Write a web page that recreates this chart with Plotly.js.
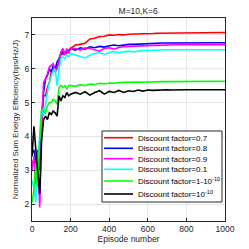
<!DOCTYPE html>
<html><head><meta charset="utf-8">
<script src="https://cdn.plot.ly/plotly-3.0.1.min.js"></script>
<style>html,body{margin:0;padding:0;background:#fff}#c{width:249px;height:249px}</style>
</head><body><div id="c"></div>
<script>
var episodes = [0,10,20,30,40,50,60,70,80,90,100,110,120,130,140,150,160,170,180,190,200,
  225,250,275,300,325,350,375,400,425,450,475,500,525,550,575,600,625,650,675,700,725,750,775,800,825,850,875,900,925,950,975,1000];
var red = [3.2,3.3,2.9,3.3,3.6,4.5,5.2,5.2,5.45,5.6,5.9,5.95,6.0,6.05,6.2,6.45,6.42,6.5,6.45,6.55,6.6,
  6.7,6.72,6.75,6.88,6.9,6.95,6.96,7.0,6.99,7.01,7.0,7.02,7.02,7.03,7.03,7.04,7.04,7.05,7.05,7.05,7.06,7.06,7.06,7.06,7.06,7.07,7.07,7.07,7.07,7.07,7.07,7.07];
var blue = [3.5,3.6,3.2,3.6,3.0,4.6,5.3,5.7,5.8,6.0,5.9,6.1,6.0,6.2,6.3,6.45,6.5,6.45,6.55,6.5,6.6,
  6.55,6.62,6.58,6.65,6.62,6.66,6.64,6.68,6.7,6.68,6.71,6.72,6.72,6.73,6.74,6.74,6.75,6.75,6.76,6.76,6.76,6.77,6.77,6.77,6.77,6.77,6.77,6.77,6.77,6.77,6.77,6.77];
var magenta = [3.0,3.4,2.6,3.2,1.9,4.3,5.6,5.7,5.85,6.05,6.1,6.15,5.9,6.0,6.2,6.5,6.6,6.4,6.6,6.45,6.6,
  6.6,6.55,6.62,6.6,6.55,6.52,6.6,6.62,6.58,6.63,6.65,6.66,6.66,6.67,6.68,6.68,6.69,6.69,6.7,6.7,6.7,6.71,6.71,6.71,6.71,6.71,6.71,6.71,6.71,6.71,6.71,6.71];
var cyan = [2.7,2.5,2.05,3.3,4.0,4.8,4.6,5.0,5.3,5.6,5.8,5.95,6.0,5.5,6.0,6.3,6.35,6.3,6.4,6.35,6.45,
  6.4,6.36,6.32,6.4,6.45,6.47,6.43,6.48,6.5,6.48,6.5,6.52,6.5,6.53,6.54,6.54,6.55,6.55,6.55,6.56,6.56,6.56,6.56,6.56,6.56,6.56,6.56,6.56,6.56,6.56,6.56,6.56];
var green = [2.05,2.4,3.2,2.5,3.9,4.8,4.75,4.7,4.9,5.0,5.0,5.1,5.05,4.95,5.45,5.5,5.45,5.5,5.4,5.5,5.5,
  5.48,5.53,5.5,5.55,5.53,5.57,5.55,5.58,5.57,5.59,5.6,5.59,5.6,5.61,5.6,5.61,5.62,5.62,5.62,5.62,5.62,5.63,5.63,5.63,5.63,5.63,5.63,5.63,5.63,5.63,5.63,5.63];
var black = [3.4,4.3,3.6,2.9,2.3,3.9,4.5,4.6,4.5,4.7,4.65,4.75,4.7,4.6,5.2,5.05,5.2,5.15,5.3,5.2,5.25,
  5.3,5.25,5.32,5.22,5.3,5.35,5.25,5.33,5.3,5.36,5.3,5.35,5.33,5.37,5.34,5.37,5.36,5.37,5.37,5.38,5.37,5.38,5.38,5.38,5.38,5.38,5.38,5.38,5.38,5.38,5.38,5.38];
var names = ['Discount factor=0.7','Discount factor=0.8','Discount factor=0.9','Discount factor=0.1',
  'Discount factor=1-10<sup>-10</sup>','Discount factor=10<sup>-10</sup>'];
var series = [red, blue, magenta, cyan, green, black];
var colors = ['#ff0000','#0000ff','#ff00ff','#00ffff','#00ff00','#000000'];
var xTicks = [0,200,400,600,800,1000];
var yTicks = [2,3,4,5,6,7];

var traces = series.map(function(s,i){
  return {x: episodes, y: s, type:'scatter', mode:'lines', name: names[i],
    line:{color: colors[i], width:1.6}, showlegend:false};
});

// compact MATLAB-like legend drawn in paper coordinates
var L = 32, B = 221, W = 193, H = 203;
function px2x(p){ return (p - L) / W; }
function py2y(p){ return (B - p) / H; }
var rowY = [137.7, 148.3, 158.7, 169.3, 181, 194];
var shapes = [{type:'rect', xref:'paper', yref:'paper', x0:px2x(102), x1:px2x(222), y0:py2y(202), y1:py2y(131),
  line:{color:'#262626', width:1}, fillcolor:'#ffffff', layer:'above'}];
var annotations = [];
names.forEach(function(n,i){
  shapes.push({type:'line', xref:'paper', yref:'paper', x0:px2x(104), x1:px2x(133), y0:py2y(rowY[i]), y1:py2y(rowY[i]),
    line:{color:colors[i], width:1.6}, layer:'above'});
  annotations.push({xref:'paper', yref:'paper', x:px2x(135.5), y:py2y(rowY[i] + (i>=4 ? -0.3 : 0.6)), xanchor:'left', yanchor:'middle',
    text:n, showarrow:false, font:{family:'Liberation Sans, Arial', size:8, color:'#000'}});
});

var ax = {showline:true, mirror:true, linecolor:'#262626', linewidth:1, ticks:'inside', ticklen:3,
  tickcolor:'#262626', showgrid:true, gridcolor:'#e6e6e6', zeroline:false,
  tickfont:{family:'Liberation Sans, Arial', size:8.5, color:'#262626'}};
var layout = {
  width:249, height:249, margin:{l:32, r:24, t:18, b:28},
  paper_bgcolor:'#fff', plot_bgcolor:'#fff',
  title:{text:'M=10,K=6', font:{family:'Liberation Sans, Arial', size:8.5, color:'#262626'}, x:0.555, xanchor:'center', y:0.955, yanchor:'middle'},
  xaxis: Object.assign({}, ax, {range:[0,1000], tickvals:xTicks, ticktext:xTicks.map(String),
    title:{text:'Episode number', font:{family:'Liberation Sans, Arial', size:8.5, color:'#262626'}, standoff:2}}),
  yaxis: Object.assign({}, ax, {range:[1.5,7.5], tickvals:yTicks, ticktext:yTicks.map(String),
    title:{text:'Normalized Sum Energy Efficiency(bps/Hz/J)', font:{family:'Liberation Sans, Arial', size:8, color:'#262626'}, standoff:4}}),
  showlegend:false, shapes:shapes, annotations:annotations
};
Plotly.newPlot('c', traces, layout, {displayModeBar:false, staticPlot:true});
</script></body></html>
